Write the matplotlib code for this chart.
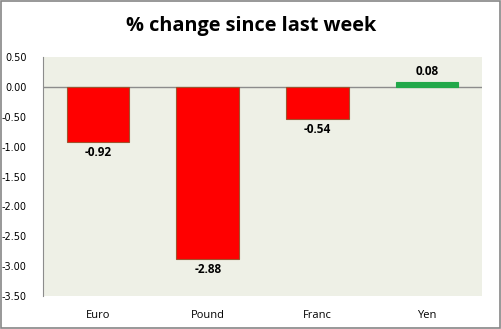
import matplotlib.pyplot as plt
from matplotlib.patches import Rectangle

categories = ["Euro", "Pound", "Franc", "Yen"]
changes = [-0.92, -2.88, -0.54, 0.08]
yticks = [0.50, 0.00, -0.50, -1.00, -1.50, -2.00, -2.50, -3.00, -3.50]

fig = plt.figure(figsize=(5.02, 3.29), dpi=100)
fig.patch.set_facecolor("white")
fig.patches.append(Rectangle((0.002, 0.004), 0.994, 0.992, transform=fig.transFigure,
                             fill=False, edgecolor="#868686", linewidth=1.2))

ax = fig.add_axes([0.086, 0.100, 0.874, 0.727])
ax.set_facecolor("#EEF0E6")

colors = ["#FF0000" if v < 0 else "#22A84A" for v in changes]
edges = ["#A0522D" if v < 0 else "#22A84A" for v in changes]
x = range(len(categories))
ax.bar(x, changes, width=0.57, color=colors, edgecolor=edges, linewidth=0.8, zorder=3)
ax.axhline(0, color="#8C8C8C", linewidth=1.0, zorder=2)

for xi, v in zip(x, changes):
    if v < 0:
        ax.annotate(f"{v:.2f}", (xi, v), xytext=(0, -3), textcoords="offset points",
                    ha="center", va="top", fontsize=8.5, fontweight="bold",
                    family="Open Sans")
    else:
        ax.annotate(f"{v:.2f}", (xi, v), xytext=(0, 3), textcoords="offset points",
                    ha="center", va="bottom", fontsize=8.5, fontweight="bold",
                    family="Open Sans")

ax.set_xlim(-0.5, len(categories) - 0.5)
ax.set_ylim(-3.5, 0.5)
ax.set_yticks(yticks)
ax.set_yticklabels([f"{t:.2f}" for t in yticks], fontsize=7, family="DejaVu Sans")
ax.set_xticks(list(x))
ax.set_xticklabels(categories, fontsize=8, family="Open Sans")
ax.tick_params(axis="y", length=0, pad=12)
ax.tick_params(axis="x", length=0, pad=10)
for s in ["top", "right", "bottom"]:
    ax.spines[s].set_visible(False)
ax.spines["left"].set_color("#8C8C8C")

fig.text(0.5, 0.92, "% change since last week", ha="center", va="center",
         fontsize=14.3, fontweight="bold", family="Open Sans")

fig.savefig("out.png", dpi=100)
